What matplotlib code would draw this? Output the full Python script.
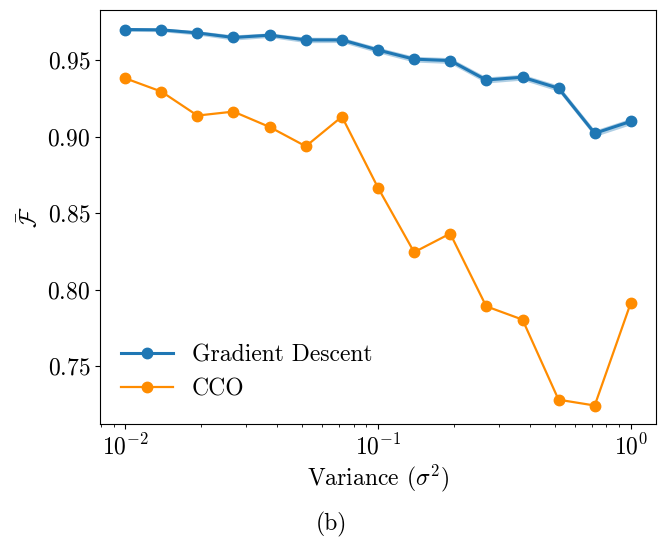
import numpy as np
import matplotlib
matplotlib.use("Agg")
import matplotlib.pyplot as plt

plt.rcParams['font.family'] = 'serif'
plt.rcParams['font.serif'] = ['cmr10']
plt.rcParams['mathtext.fontset'] = 'cm'
plt.rcParams['axes.formatter.use_mathtext'] = True
plt.rcParams['axes.unicode_minus'] = False

# variance values (log spaced 1e-2 .. 1e0)
variance = [0.01, 0.0139, 0.0193, 0.0268, 0.0373, 0.0518, 0.0720, 0.1,
            0.139, 0.193, 0.268, 0.373, 0.518, 0.720, 1.0]

# mean fidelity, gradient descent
gd_mean = [0.9701, 0.9699, 0.9679, 0.9649, 0.9664, 0.9633, 0.9633, 0.9567,
           0.9507, 0.9498, 0.9371, 0.9389, 0.9317, 0.9022, 0.9100]
# spread of the gradient descent runs (shaded band)
gd_std = [0.0012, 0.0012, 0.0014, 0.0017, 0.0015, 0.0018, 0.0017, 0.0018,
          0.0019, 0.0019, 0.0020, 0.0019, 0.0020, 0.0021, 0.0021]

# mean fidelity, CCO
cco_mean = [0.9382, 0.9295, 0.9138, 0.9164, 0.9063, 0.8937, 0.9131, 0.8666,
            0.8244, 0.8366, 0.7890, 0.7803, 0.7279, 0.7241, 0.7912]

gd_mean = np.array(gd_mean)
gd_std = np.array(gd_std)

fig = plt.figure(figsize=(6.62, 5.45), dpi=100)
ax = fig.add_axes([0.151, 0.222, 0.840, 0.760])

ax.fill_between(variance, gd_mean - gd_std, gd_mean + gd_std,
                color='#1f77b4', alpha=0.35, linewidth=0)
ax.plot(variance, gd_mean, '-o', color='#1f77b4', lw=2.2, ms=7.5,
        label='Gradient Descent')
ax.plot(variance, cco_mean, '-o', color='darkorange', lw=1.6, ms=7.5,
        label='CCO')

ax.set_xscale('log')
ax.set_ylim(0.712, 0.983)
ax.set_yticks([0.75, 0.80, 0.85, 0.90, 0.95])
ax.tick_params(labelsize=17)

ax.set_xlabel(r'Variance ($\sigma^2$)', fontsize=17, labelpad=3)
ax.set_ylabel(r'$\bar{\mathcal{F}}$', fontsize=17, labelpad=4)

ax.legend(loc='lower left', frameon=False, fontsize=17,
          bbox_to_anchor=(0.0, 0.005), handlelength=2.2)

fig.text(0.5, 0.038, '(b)', ha='center', va='center', fontsize=17)

fig.savefig('out.png', dpi=100)
